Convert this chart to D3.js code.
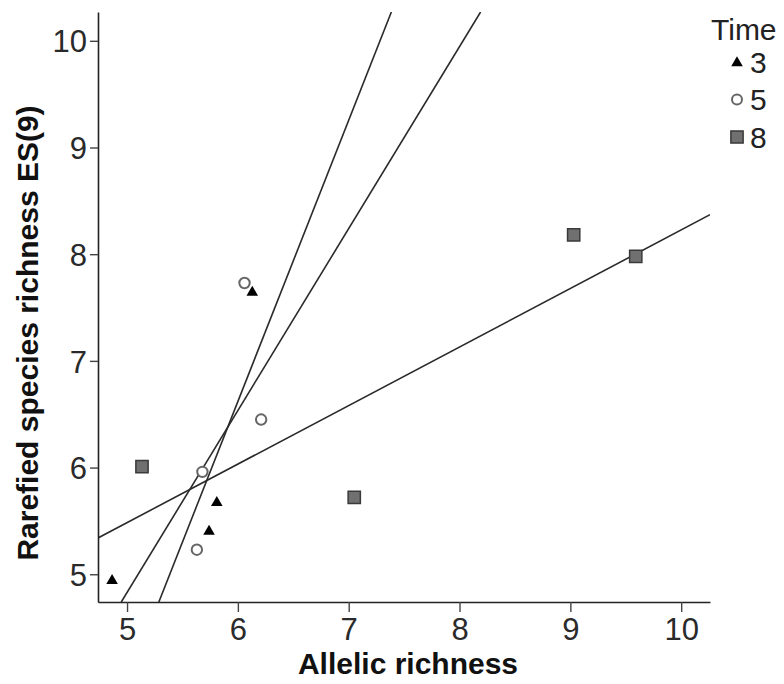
<!DOCTYPE html>
<html>
<head>
<meta charset="utf-8">
<script src="https://cdn.jsdelivr.net/npm/d3@7"></script>
<style>
  body { margin: 0; background: #fff; }
  text { font-family: "Liberation Sans", Arial, sans-serif; }
</style>
</head>
<body>
<script>
// values
const xTicks = [5, 6, 7, 8, 9, 10];
const yTicks = [5, 6, 7, 8, 9, 10];
const times = ["3", "5", "8"];

const time3 = [
  { x: 4.865, y: 4.95 },
  { x: 5.74, y: 5.41 },
  { x: 5.81, y: 5.68 },
  { x: 6.13, y: 7.65 }
];
const time5 = [
  { x: 6.06, y: 7.73 },
  { x: 6.21, y: 6.45 },
  { x: 5.68, y: 5.96 },
  { x: 5.63, y: 5.23 }
];
const time8 = [
  { x: 5.135, y: 6.01 },
  { x: 7.05, y: 5.72 },
  { x: 9.03, y: 8.18 },
  { x: 9.59, y: 7.98 }
];

// fitted lines, endpoints
const fit3 = [[4.948, 4.74], [8.19, 10.27]];
const fit5 = [[5.287, 4.74], [7.385, 10.27]];
const fit8 = [[4.738, 5.34], [10.26, 8.37]];

const width = 784, height = 684;
const svg = d3.select("body").append("svg")
  .attr("width", width)
  .attr("height", height);

const x = d3.scaleLinear().domain([4.738, 10.26]).range([98, 710]);
const y = d3.scaleLinear().domain([4.74, 10.27]).range([602, 12]);

svg.append("clipPath").attr("id", "plot")
  .append("rect")
  .attr("x", 98).attr("y", 12)
  .attr("width", 612).attr("height", 590);

// fit lines
const line = d3.line().x(d => x(d[0])).y(d => y(d[1]));
svg.append("g")
  .attr("clip-path", "url(#plot)")
  .selectAll("path")
  .data([fit3, fit5, fit8])
  .enter().append("path")
  .attr("d", line)
  .attr("fill", "none")
  .attr("stroke", "#2a2a2a")
  .attr("stroke-width", 1.6);

// axes
const xAxis = svg.append("g")
  .attr("transform", "translate(0,602)")
  .call(d3.axisBottom(x).tickValues(xTicks).tickFormat(d3.format("d"))
    .tickSize(10).tickSizeOuter(0).tickPadding(6));
const yAxis = svg.append("g")
  .attr("transform", "translate(98,0)")
  .call(d3.axisLeft(y).tickValues(yTicks).tickFormat(d3.format("d"))
    .tickSize(8).tickSizeOuter(0).tickPadding(3));

[xAxis, yAxis].forEach(a => {
  a.select(".domain").attr("stroke", "#222").attr("stroke-width", 1.6);
  a.selectAll(".tick line").attr("stroke", "#444").attr("stroke-width", 1.4);
  a.selectAll(".tick text")
    .attr("fill", "#2a2a2a")
    .style("font-size", "31px")
    .style("font-family", "'Liberation Sans', Arial, sans-serif");
});
yAxis.selectAll(".tick text").attr("dy", "0.36em");

// markers
const tri = d3.symbol().type(d3.symbolTriangle).size(58);
const sq = d3.symbol().type(d3.symbolSquare).size(150);

svg.append("g").selectAll("path")
  .data(time8)
  .enter().append("path")
  .attr("d", sq)
  .attr("transform", d => `translate(${x(d.x)},${y(d.y)})`)
  .attr("fill", "#707070")
  .attr("stroke", "#3a3a3a")
  .attr("stroke-width", 1.5);

svg.append("g").selectAll("circle")
  .data(time5)
  .enter().append("circle")
  .attr("cx", d => x(d.x))
  .attr("cy", d => y(d.y))
  .attr("r", 5.2)
  .attr("fill", "#fff")
  .attr("stroke", "#666")
  .attr("stroke-width", 2);

svg.append("g").selectAll("path")
  .data(time3)
  .enter().append("path")
  .attr("d", tri)
  .attr("transform", d => `translate(${x(d.x)},${y(d.y) + 1})`)
  .attr("fill", "#000");

// axis titles
svg.append("text")
  .attr("x", 408).attr("y", 674)
  .attr("text-anchor", "middle")
  .style("font-size", "30px")
  .style("font-weight", "bold")
  .attr("fill", "#111")
  .text("Allelic richness");

svg.append("text")
  .attr("transform", "translate(38,333) rotate(-90)")
  .attr("text-anchor", "middle")
  .style("font-size", "30px")
  .style("font-weight", "bold")
  .attr("fill", "#111")
  .text("Rarefied species richness ES(9)");

// legend
const legend = svg.append("g");
legend.append("text")
  .attr("x", 711).attr("y", 40)
  .style("font-size", "30px")
  .attr("fill", "#222")
  .text("Time");

const legendY = d3.scalePoint().domain(times).range([62, 137]);
const legendMark = {
  "3": g => g.append("path").attr("d", tri).attr("transform", "translate(0,1)").attr("fill", "#000"),
  "5": g => g.append("circle").attr("r", 5).attr("fill", "#fff").attr("stroke", "#666").attr("stroke-width", 2),
  "8": g => g.append("path").attr("d", sq).attr("fill", "#707070").attr("stroke", "#3a3a3a").attr("stroke-width", 1.5)
};
times.forEach(t => {
  const g = legend.append("g").attr("transform", `translate(737,${legendY(t)})`);
  legendMark[t](g);
  g.append("text")
    .attr("x", 13).attr("dy", "0.36em")
    .style("font-size", "30px")
    .attr("fill", "#222")
    .text(t);
});
</script>
</body>
</html>
